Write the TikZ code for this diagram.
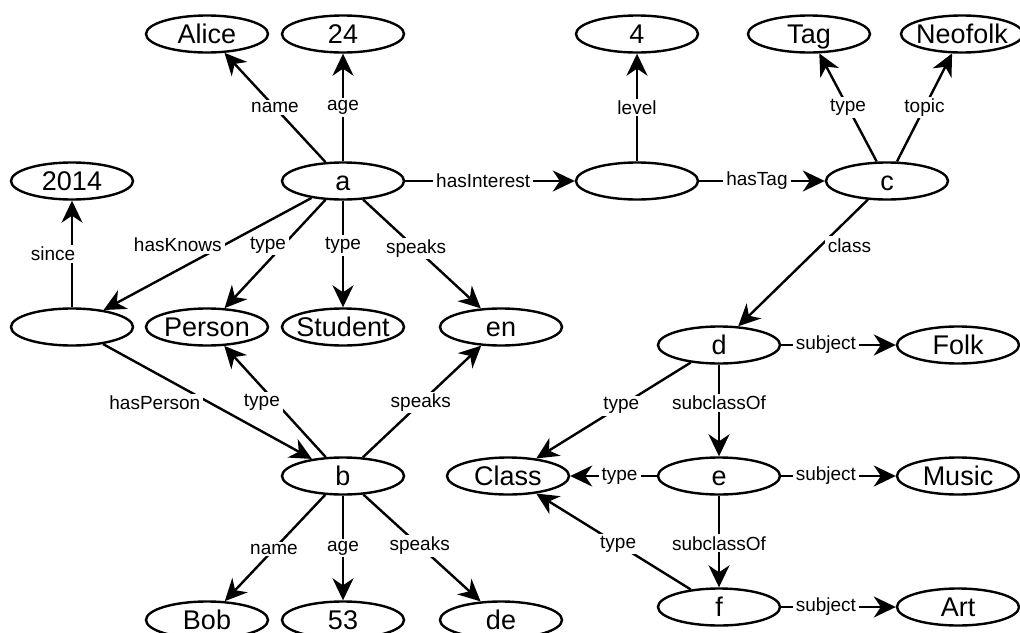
\documentclass[tikz,border=0pt]{standalone}
\usepackage{fontspec}
\setmainfont{Liberation Sans}
\usetikzlibrary{arrows.meta}
\usetikzlibrary{shapes.geometric}

\begin{document}
\begin{tikzpicture}[x=1pt, y=-1pt,
    res/.style={draw, ellipse, line width=2.4pt, minimum width=122pt, minimum height=37pt,
        inner xsep=-10pt, inner ysep=0pt, text height=19pt, text depth=0pt,
        font=\fontsize{27pt}{30pt}\selectfont},
    rel/.style={line width=2.4pt, -{Stealth[length=22pt, width=21pt, inset=7pt]}},
    lbl/.style={fill=white, inner xsep=3pt, inner ysep=2pt, font=\fontsize{19pt}{22pt}\selectfont}]
            \useasboundingbox (0,0) rectangle (1020,632);

            % resources
            \node[res] (alice) at (207,34) {Alice};
            \node[res] (n24) at (343,34) {24};
            \node[res] (n4) at (637,34) {4};
            \node[res] (tag) at (809,34) {Tag};
            \node[res] (neofolk) at (962,34) {Neofolk};
            \node[res] (n2014) at (72,181) {2014};
            \node[res] (a) at (343,181) {a};
            \node[res] (interest) at (637,181) {};
            \node[res] (c) at (887,181) {c};
            \node[res] (knows) at (72,327) {};
            \node[res] (person) at (207,327) {Person};
            \node[res] (student) at (343,327) {Student};
            \node[res] (en) at (501,327) {en};
            \node[res] (d) at (719,345) {d};
            \node[res] (folk) at (958,345) {Folk};
            \node[res] (b) at (343,476) {b};
            \node[res] (class) at (508,476) {Class};
            \node[res] (e) at (719,476) {e};
            \node[res] (music) at (958,476) {Music};
            \node[res] (bob) at (207,620) {Bob};
            \node[res] (n53) at (343,620) {53};
            \node[res] (de) at (501,620) {de};
            \node[res] (f) at (719,607) {f};
            \node[res] (art) at (958,607) {Art};

            % a
            \draw[rel] (a) -- node[lbl, pos=0.5] {name} (alice);
            \draw[rel] (a) -- node[lbl, pos=0.5] {age} (n24);
            \draw[rel] (a) -- node[lbl, pos=0.46] {hasInterest} (interest);
            \draw[rel] (a) -- node[lbl, pos=0.59, xshift=-11pt, yshift=19pt] {hasKnows} (knows);
            \draw[rel] (a) -- node[lbl, pos=0.49, xshift=-8pt, yshift=8pt] {type} (person);
            \draw[rel] (a) -- node[lbl, pos=0.42] {type} (student);
            \draw[rel] (a) -- node[lbl, pos=0.45] {speaks} (en);

            % interest and tag
            \draw[rel] (interest) -- node[lbl, pos=0.5] {level} (n4);
            \draw[rel] (interest) -- node[lbl, pos=0.46] {hasTag} (c);
            \draw[rel] (c) -- node[lbl, pos=0.5] {type} (tag);
            \draw[rel] (c) -- node[lbl, pos=0.5] {topic} (neofolk);
            \draw[rel] (c) -- node[lbl, pos=0.25, xshift=14pt, yshift=-14pt] {class} (d);

            % knows and b
            \draw[rel] (knows) -- node[lbl, pos=0.5, xshift=-19pt] {since} (n2014);
            \draw[rel] (knows) -- node[lbl, pos=0.31, xshift=-13pt, yshift=-23pt] {hasPerson} (b);
            \draw[rel] (b) -- node[lbl, pos=0.56, xshift=-7pt, yshift=-7pt] {type} (person);
            \draw[rel] (b) -- node[lbl, pos=0.49] {speaks} (en);
            \draw[rel] (b) -- node[lbl, pos=0.51] {name} (bob);
            \draw[rel] (b) -- node[lbl, pos=0.5] {age} (n53);
            \draw[rel] (b) -- node[lbl, pos=0.48] {speaks} (de);

            % classes
            \draw[rel] (d) -- node[lbl, pos=0.39] {subject} (folk);
            \draw[rel] (e) -- node[lbl, pos=0.39] {subject} (music);
            \draw[rel] (f) -- node[lbl, pos=0.39] {subject} (art);
            \draw[rel] (d) -- node[lbl, pos=0.45] {type} (class);
            \draw[rel] (e) -- node[lbl, pos=0.43] {type} (class);
            \draw[rel] (f) -- node[lbl, pos=0.47] {type} (class);
            \draw[rel] (d) -- node[lbl, pos=0.42] {subclassOf} (e);
            \draw[rel] (e) -- node[lbl, pos=0.52] {subclassOf} (f);
        \end{tikzpicture}
\end{document}
